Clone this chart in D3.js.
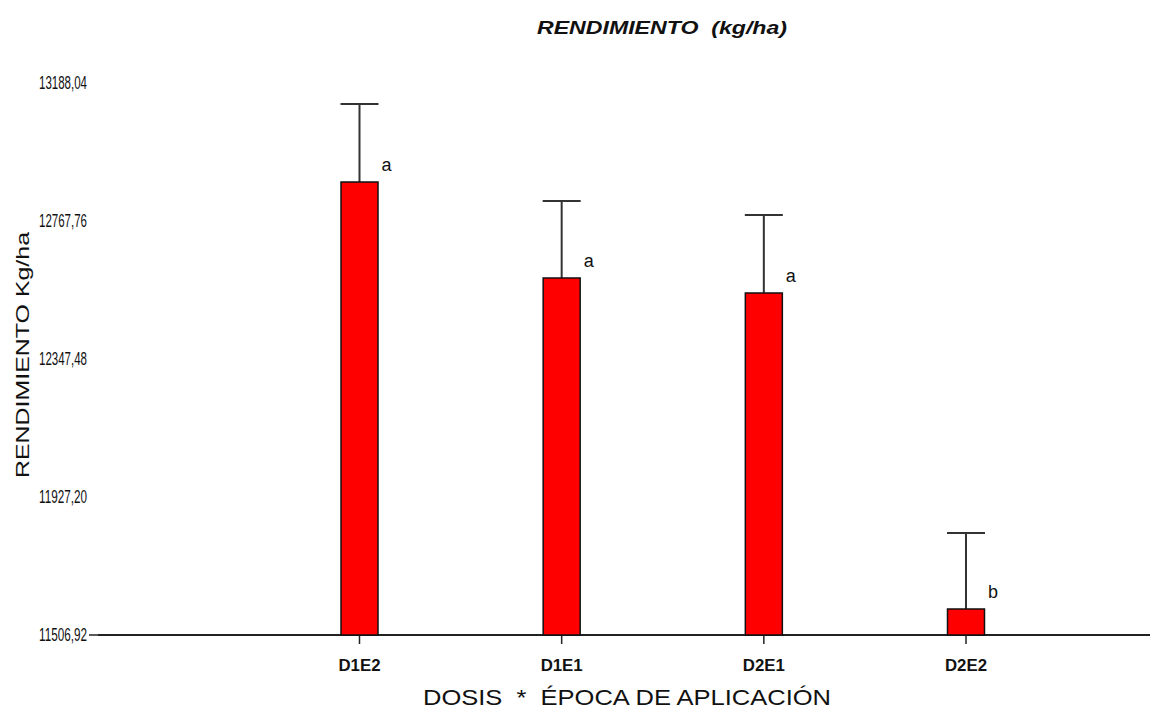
<!DOCTYPE html>
<html>
<head>
<meta charset="utf-8">
<script src="https://cdn.jsdelivr.net/npm/d3@7"></script>
<style>
  body { margin: 0; background: #fff; }
  text { font-family: "Liberation Sans", Arial, sans-serif; fill: #111; white-space: pre; }
</style>
</head>
<body>
<div id="container"></div>
<script>
let w = 1150;
let h = 713;

// data
let categories = ["D1E2", "D1E1", "D2E1", "D2E2"];
let means = [12886.5, 12594.2, 12548.5, 11586.1];
let upper = [13124.1, 12828.7, 12786.0, 11817.6];
let letters = ["a", "a", "a", "b"];
let yTicks = [11506.92, 11927.20, 12347.48, 12767.76, 13188.04];

let viz = d3.select("#container").append("svg")
    .attr("width", w)
    .attr("height", h)
    .style("background-color", "white");

let yScale = d3.scaleLinear().domain([11506.92, 13188.04]).range([635, 83]);
let xScale = d3.scalePoint().domain(categories).range([359.5, 966]);
let barW = 37;

// title
viz.append("text")
  .attr("x", 662)
  .attr("y", 34)
  .attr("text-anchor", "middle")
  .attr("textLength", 250)
  .attr("lengthAdjust", "spacingAndGlyphs")
  .style("font-size", "19px")
  .style("font-weight", "bold")
  .style("font-style", "italic")
  .text("RENDIMIENTO  (kg/ha)");

// y labels (narrow font in the original)
viz.selectAll(".ylab").data(yTicks).enter()
  .append("text")
    .attr("class", "ylab")
    .attr("x", 87)
    .attr("y", d => yScale(d) + 6)
    .attr("text-anchor", "end")
    .attr("textLength", 48)
    .attr("lengthAdjust", "spacingAndGlyphs")
    .style("font-size", "18px")
    .text(d => d.toFixed(2).replace(".", ","));

// little cross at the origin
viz.append("line")
  .attr("x1", 89).attr("x2", 98)
  .attr("y1", 635).attr("y2", 635)
  .attr("stroke", "#222").attr("stroke-width", 1.5);

// x axis line
viz.append("line")
  .attr("x1", 98).attr("x2", w)
  .attr("y1", 635).attr("y2", 635)
  .attr("stroke", "#222").attr("stroke-width", 2);

// x ticks
viz.selectAll(".xtick").data(categories).enter()
  .append("line")
    .attr("x1", d => xScale(d)).attr("x2", d => xScale(d))
    .attr("y1", 635).attr("y2", 644)
    .attr("stroke", "#222").attr("stroke-width", 1.5);

viz.selectAll(".xlab").data(categories).enter()
  .append("text")
    .attr("x", d => xScale(d))
    .attr("y", 671)
    .attr("text-anchor", "middle")
    .attr("textLength", 42)
    .attr("lengthAdjust", "spacingAndGlyphs")
    .style("font-size", "17px")
    .style("font-weight", "bold")
    .text(d => d);

// error bars
viz.selectAll(".err").data(categories).enter()
  .append("line")
    .attr("x1", d => xScale(d)).attr("x2", d => xScale(d))
    .attr("y1", (d, i) => yScale(means[i]))
    .attr("y2", (d, i) => yScale(upper[i]))
    .attr("stroke", "#333").attr("stroke-width", 2);

viz.selectAll(".cap").data(categories).enter()
  .append("line")
    .attr("x1", d => xScale(d) - 19).attr("x2", d => xScale(d) + 19)
    .attr("y1", (d, i) => yScale(upper[i]))
    .attr("y2", (d, i) => yScale(upper[i]))
    .attr("stroke", "#333").attr("stroke-width", 2);

// bars
viz.selectAll(".bar").data(categories).enter()
  .append("rect")
    .attr("x", d => xScale(d) - barW / 2)
    .attr("y", (d, i) => yScale(means[i]))
    .attr("width", barW)
    .attr("height", (d, i) => 635 - yScale(means[i]))
    .attr("fill", "#ff0000")
    .attr("stroke", "#111")
    .attr("stroke-width", 1.5);

// letters
viz.selectAll(".letter").data(categories).enter()
  .append("text")
    .attr("x", d => xScale(d) + 22)
    .attr("y", (d, i) => yScale(means[i]) - 11)
    .attr("text-anchor", "start")
    .style("font-size", "18px")
    .text((d, i) => letters[i]);

// axis titles
viz.append("text")
  .attr("x", 627)
  .attr("y", 705)
  .attr("text-anchor", "middle")
  .attr("textLength", 408)
  .attr("lengthAdjust", "spacingAndGlyphs")
  .style("font-size", "22px")
  .text("DOSIS  *  ÉPOCA DE APLICACIÓN");

viz.append("text")
  .attr("transform", "translate(29,355) rotate(-90)")
  .attr("text-anchor", "middle")
  .attr("textLength", 246)
  .attr("lengthAdjust", "spacingAndGlyphs")
  .style("font-size", "19px")
  .text("RENDIMIENTO Kg/ha");
</script>
</body>
</html>
